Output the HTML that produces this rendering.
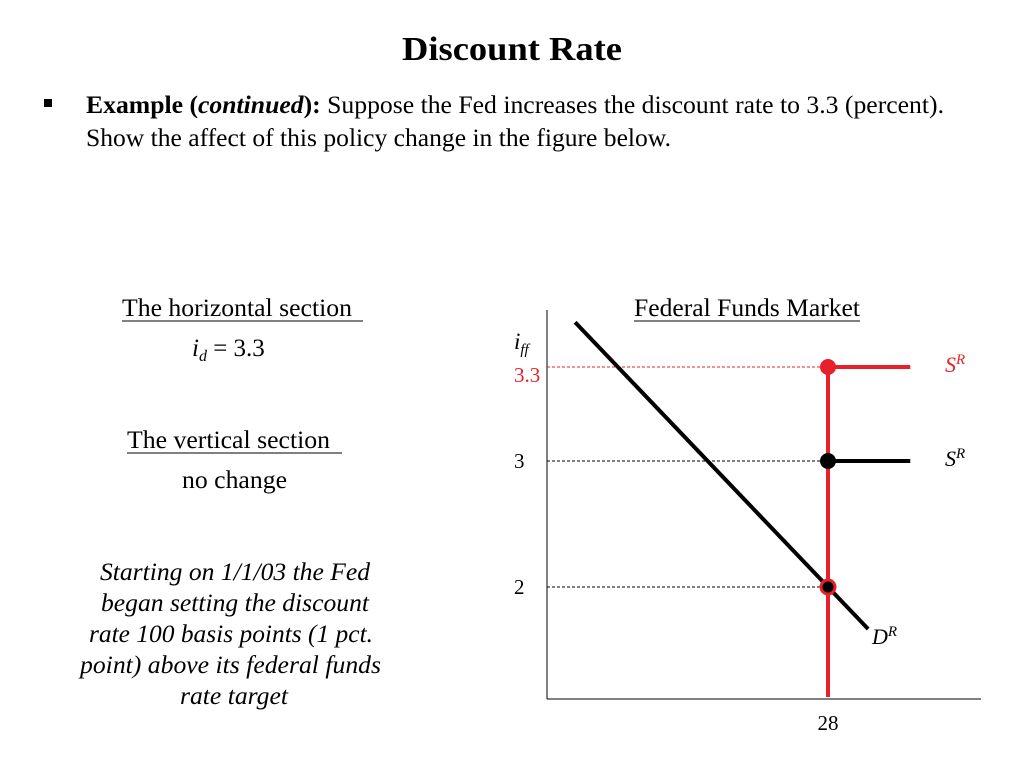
<!DOCTYPE html>
<html><head><meta charset="utf-8"><style>
html,body{margin:0;padding:0;background:#fff;}
svg{display:block;font-family:"Liberation Serif",serif;}
</style></head><body>
<svg id="s" width="1024" height="768" viewBox="0 0 1024 768">
<text x="402" y="60" font-size="34" font-weight="bold" textLength="220" lengthAdjust="spacingAndGlyphs">Discount Rate</text>
<rect x="44" y="99" width="8" height="8" fill="#000"/>
<text x="86" y="113" font-size="25" textLength="858" lengthAdjust="spacingAndGlyphs"><tspan font-weight="bold">Example (</tspan><tspan font-weight="bold" font-style="italic">continued</tspan><tspan font-weight="bold">):</tspan> Suppose the Fed increases the discount rate to 3.3 (percent).</text>
<text x="86" y="146" font-size="25" textLength="585" lengthAdjust="spacingAndGlyphs">Show the affect of this policy change in the figure below.</text>

<g font-size="25">
<text x="122" y="316" textLength="230" lengthAdjust="spacingAndGlyphs">The horizontal section</text>
<line x1="122" y1="321" x2="363" y2="321" stroke="#000" stroke-width="1"/>
<text x="192" y="356"><tspan font-style="italic">i</tspan><tspan font-style="italic" font-size="16" dy="5">d</tspan><tspan dy="-5"> = 3.3</tspan></text>
<text x="127" y="448" textLength="203" lengthAdjust="spacingAndGlyphs">The vertical section</text>
<line x1="127" y1="453" x2="342" y2="453" stroke="#000" stroke-width="1"/>
<text x="182" y="488" textLength="105" lengthAdjust="spacingAndGlyphs">no change</text>
<g font-style="italic">
<text x="100" y="580" textLength="270" lengthAdjust="spacingAndGlyphs">Starting on 1/1/03 the Fed</text>
<text x="101" y="611" textLength="268" lengthAdjust="spacingAndGlyphs">began setting the discount</text>
<text x="89" y="642" textLength="284" lengthAdjust="spacingAndGlyphs">rate 100 basis points (1 pct.</text>
<text x="80" y="673" textLength="301" lengthAdjust="spacingAndGlyphs">point) above its federal funds</text>
<text x="180" y="704" textLength="108" lengthAdjust="spacingAndGlyphs">rate target</text>
</g>
</g>

<text x="634" y="316" font-size="25" textLength="226" lengthAdjust="spacingAndGlyphs">Federal Funds Market</text>
<line x1="634" y1="321" x2="860" y2="321" stroke="#000" stroke-width="1"/>
<g id="chart"></g>
</svg>
<script>
const yTicks=[2,3,3.3];
const yTickLabels=["2","3","3.3"];
const quantity=28;
const oldRate=3;
const newRate=3.3;
const equilibriumRate=2;
const demandX=[2.8,32.0];
const demandY=[3.85,1.25];
const supplyEndQ=11.2+25;

const NS="http://www.w3.org/2000/svg";
const g=document.getElementById('chart');
const X0=547,Y0=699;
function xs(q){return 547+(q-0)*(828-547)/28;}
const yKn=[0,2,3,3.3,4],yPx=[699,587,461,367,310];
function ys(v){for(let i=0;i<yKn.length-1;i++){if(v<=yKn[i+1]||i==yKn.length-2){return yPx[i]+(v-yKn[i])*(yPx[i+1]-yPx[i])/(yKn[i+1]-yKn[i]);}}}
function mk(t,a){const e=document.createElementNS(NS,t);for(const k in a)e.setAttribute(k,a[k]);g.appendChild(e);return e;}
let e;
e=mk('line',{x1:X0,y1:310,x2:X0,y2:Y0,stroke:'#000','stroke-width':1});


e=mk('line',{x1:X0,y1:Y0,x2:981,y2:Y0,stroke:'#000','stroke-width':1});


e=mk('text',{x:514,y:349,'font-size':23,'font-style':'italic'});e.innerHTML='i<tspan font-size="15" dy="5">ff</tspan>';


yTicks.forEach((v,i)=>{const red=v===newRate;
 const l=mk('line',{x1:X0,y1:ys(v),x2:xs(quantity),y2:ys(v),stroke:red?'#e8202a':'#000','stroke-width':1,'stroke-dasharray':'3 2'});
 
 
 const t=mk('text',{x:red?514:514,y:ys(v)+(red?15:7),'font-size':21,fill:red?'#e8202a':'#000'});t.textContent=yTickLabels[i];
 if(!red)t.setAttribute('x',514);
 
 });
e=mk('text',{x:xs(quantity),y:730,'font-size':21,'text-anchor':'middle'});e.textContent=String(quantity);


e=mk('line',{x1:xs(demandX[0]),y1:ys(demandY[0]),x2:xs(demandX[1]),y2:ys(demandY[1]),stroke:'#000','stroke-width':4});


e=mk('text',{x:872,y:644,'font-size':22,'font-style':'italic'});e.innerHTML='D<tspan font-size="15" dy="-8">R</tspan>';


e=mk('line',{x1:xs(quantity),y1:ys(oldRate),x2:xs(supplyEndQ),y2:ys(oldRate),stroke:'#000','stroke-width':4});


e=mk('line',{x1:xs(quantity),y1:ys(newRate),x2:xs(supplyEndQ),y2:ys(newRate),stroke:'#e8202a','stroke-width':4});


e=mk('line',{x1:xs(quantity),y1:ys(newRate),x2:xs(quantity),y2:697,stroke:'#e8202a','stroke-width':4});


e=mk('text',{x:945,y:ys(newRate)+5,'font-size':22,'font-style':'italic',fill:'#e8202a'});e.innerHTML='S<tspan font-size="15" dy="-8">R</tspan>';


e=mk('text',{x:945,y:ys(oldRate)+5,'font-size':22,'font-style':'italic'});e.innerHTML='S<tspan font-size="15" dy="-8">R</tspan>';


e=mk('circle',{cx:xs(quantity),cy:ys(newRate),r:8,fill:'#e8202a'});


e=mk('circle',{cx:xs(quantity),cy:ys(oldRate),r:8,fill:'#000'});


e=mk('circle',{cx:xs(quantity),cy:ys(equilibriumRate),r:7,fill:'#000',stroke:'#e8202a','stroke-width':3});


</script>
</body></html>
